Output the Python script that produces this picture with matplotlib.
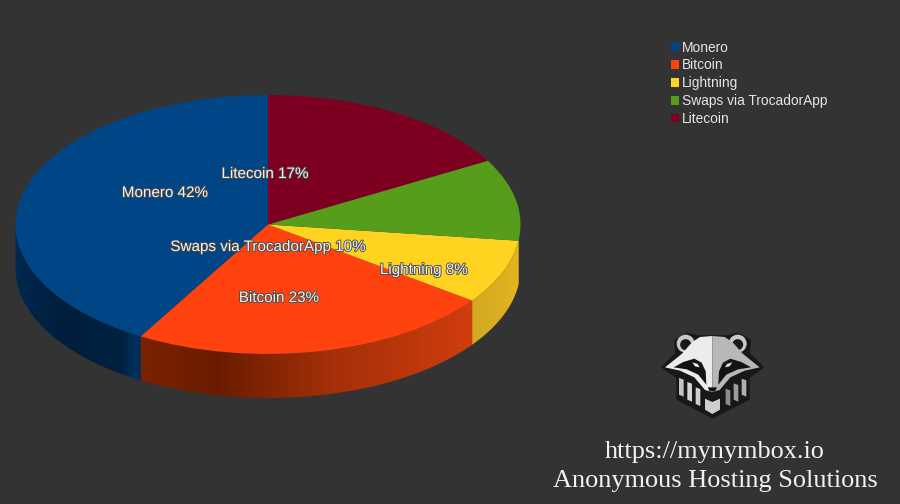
import matplotlib
matplotlib.use("Agg")
import matplotlib.pyplot as plt
import matplotlib.patheffects as pe
from matplotlib.colors import LinearSegmentedColormap
from matplotlib.patches import Circle, Polygon
import numpy as np

names = ["Monero", "Bitcoin", "Lightning", "Swaps via TrocadorApp", "Litecoin"]
shares = [41.6, 23.4, 8, 10.2, 16.8]
colors = ["#004586", "#ff420e", "#ffd320", "#579d1c", "#7e0021"]

# pixel positions of the labels, same order as names
label_x = [165, 279, 424, 268, 265]
label_y = [193, 298, 270, 247, 174]

bg = "#333333"
plt.rcParams["font.family"] = "Liberation Sans"

# pie geometry in pixels
cx, cy, rx, ry = 268, 224.5, 252.5, 129.5
depth = 44 / ry

fig = plt.figure(figsize=(9, 5.04), dpi=100, facecolor=bg)
ax = fig.add_axes([0, 0, 1, 1])

# wall gradients, (pixel x, colour) for the visible part of each slice
walls = {
    "Monero": [(15, "#00284f"), (60, "#001f3f"), (122, "#00213f"), (134, "#00315e"), (148, "#002a52")],
    "Bitcoin": [(134, "#7d2300"), (215, "#6a1c00"), (330, "#a32f08"), (478, "#d23e0d")],
    "Lightning": [(462, "#c49a1c"), (476, "#d4aa20"), (505, "#dcb020"), (522, "#e6b81e")],
}

edges = np.cumsum([0] + shares) / sum(shares) * 360
for i, name in enumerate(names):
    if name not in walls:
        continue
    start = np.radians(max(edges[i], 90))
    stop = np.radians(min(edges[i + 1] + 0.4, 270))
    t = np.linspace(start, stop, 80)
    x = -np.sin(t)
    y = np.cos(t)
    outline = np.column_stack([np.r_[x, x[::-1]], np.r_[y, y[::-1] - depth]])
    stops = walls[name]
    x0, x1 = stops[0][0], stops[-1][0]
    cmap = LinearSegmentedColormap.from_list(
        name, [((p - x0) / (x1 - x0), c) for p, c in stops])
    im = ax.imshow(np.linspace(0, 1, 256)[None, :], cmap=cmap, aspect="auto", interpolation="bilinear",
                   extent=[(x0 - cx) / rx, (x1 - cx) / rx, -1.6, 1.0], zorder=1)
    im.set_clip_path(Polygon(outline, transform=ax.transData))

wedges, _ = ax.pie(shares, colors=colors, startangle=90, counterclock=True, radius=1,
                   wedgeprops={"linewidth": 0, "zorder": 2})
ax.set_aspect("auto")
ax.set_xlim(-cx / rx, (900 - cx) / rx)
ax.set_ylim((cy - 504) / ry, cy / ry)
ax.axis("off")

# overlay in pixel coordinates for text and logo
ov = fig.add_axes([0, 0, 1, 1])
ov.set_xlim(0, 900)
ov.set_ylim(504, 0)
ov.axis("off")
ov.patch.set_alpha(0)

for name, share, lx, ly in zip(names, shares, label_x, label_y):
    ov.text(lx, ly, f"{name} {share:.0f}%", ha="center", va="center", fontsize=10.95, color="#f2f2f2",
            path_effects=[pe.withStroke(linewidth=1.3, foreground="#4a4a4a")])

leg = ov.legend(wedges, names, loc="upper left", bbox_to_anchor=(671 / 900, 1 - 40.5 / 504),
                bbox_transform=fig.transFigure, frameon=False, fontsize=9.95, borderpad=0,
                borderaxespad=0, handlelength=0.6, handleheight=0.6, handletextpad=0.22,
                labelspacing=0.28, labelcolor="#e6e6e6")

ov.text(715, 452, "https://mynymbox.io", ha="center", va="center", fontsize=18.9,
        family="Liberation Serif", color="#f2f2f2")
ov.text(715, 481, "Anonymous Hosting Solutions", ha="center", va="center", fontsize=18.9,
        family="Liberation Serif", color="#f2f2f2")


# logo, traced in zoomed coordinates
def lp(points):
    return [(655 + a / 3, 328 + b / 3) for a, b in points]


def shape(points, color, z=3):
    ov.add_patch(Polygon(lp(points), closed=True, fc=color, ec="none", zorder=z))


shape([(18, 118), (60, 75), (58, 35), (95, 14), (130, 22), (215, 22), (250, 14), (288, 35), (285, 75),
       (328, 118), (284, 150), (284, 215), (172, 272), (64, 215), (64, 150)], "#17181a")
for ex in (92, 248):
    ov.add_patch(Circle(lp([(ex, 47)])[0], 9, fc="#c8c8c8", ec="none", zorder=3.1))
    ov.add_patch(Circle(lp([(ex, 50)])[0], 5.5, fc="#17181a", ec="none", zorder=3.2))
# face halves
shape([(172, 24), (135, 27), (112, 42), (80, 78), (30, 118), (75, 128), (118, 148), (150, 186), (172, 192)],
      "#ececec", 3.3)
shape([(172, 24), (209, 27), (232, 42), (264, 78), (314, 118), (269, 128), (226, 148), (194, 186), (172, 192)],
      "#b8b8b8", 3.3)
# mask
shape([(56, 118), (85, 102), (118, 92), (140, 104), (152, 130), (154, 170), (130, 140), (95, 124)], "#121315", 3.4)
shape([(288, 118), (259, 102), (226, 92), (204, 104), (192, 130), (190, 170), (214, 140), (249, 124)], "#121315", 3.4)
shape([(112, 103), (128, 108), (134, 118), (120, 115)], "#f0f0f0", 3.5)
shape([(232, 103), (216, 108), (210, 118), (224, 115)], "#e0e0e0", 3.5)
# snout
shape([(158, 178), (186, 178), (180, 190), (164, 190)], "#121315", 3.5)
# stripes under the chin
for sx, top, bottom, col in [(72, 150, 200, "#c4c4c4"), (97, 162, 215, "#d4d4d4"), (122, 178, 228, "#cfcfcf"),
                             (212, 182, 228, "#8c8c8c"), (236, 166, 215, "#9c9c9c"), (260, 152, 200, "#aeaeae")]:
    shape([(sx, top), (sx + 14, top + 5), (sx + 14, bottom + 6), (sx, bottom)], col, 3.4)
shape([(150, 212), (172, 222), (195, 212), (195, 245), (172, 258), (150, 245)], "#cfcfcf", 3.4)

fig.savefig("out.png", dpi=100, facecolor=bg)
